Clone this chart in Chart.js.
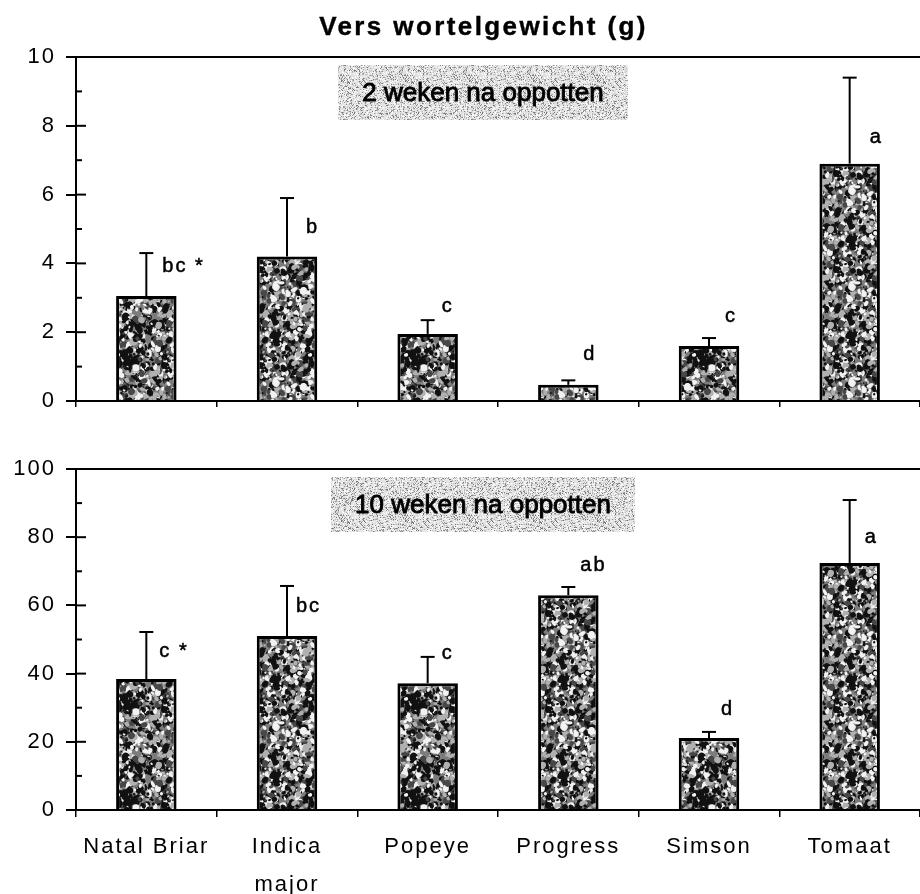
<!DOCTYPE html>
<html><head><meta charset="utf-8">
<script src="https://cdn.jsdelivr.net/npm/chart.js@4.4.0/dist/chart.umd.min.js"></script>
<style>
html,body{margin:0;padding:0;background:#fff;width:920px;height:894px;overflow:hidden;position:relative}
#title{position:absolute;left:0;top:11px;width:967px;text-align:center;font:bold 26px Arial,"Liberation Sans",sans-serif;line-height:30px;letter-spacing:2.4px;color:#000;z-index:2;-webkit-text-stroke:0.4px #000}
.wrap{position:absolute;left:0;width:920px}
</style></head><body>
<div class="wrap" style="top:0;height:440px"><canvas id="c1" width="920" height="440"></canvas></div>
<div class="wrap" style="top:440px;height:454px"><canvas id="c2" width="920" height="454"></canvas></div>
<div id="title">Vers wortelgewicht (g)</div>
<script>
// ---- data ----
const categories = ['Natal Briar', ['Indica', 'major'], 'Popeye', 'Progress', 'Simson', 'Tomaat'];
const week2Mean = [3.05, 4.2, 1.95, 0.47, 1.6, 6.9];
const week2Err = [1.25, 1.7, 0.4, 0.13, 0.23, 2.5];
const week2Letters = ['bc *', 'b', 'c', 'd', 'c', 'a'];
const week10Mean = [38.4, 51.0, 37.2, 63.0, 21.1, 72.4];
const week10Err = [13.8, 14.7, 7.7, 2.4, 1.8, 18.5];
const week10Letters = ['c *', 'bc', 'c', 'ab', 'd', 'a'];
const week2Ticks = [0, 2, 4, 6, 8, 10];
const week10Ticks = [0, 20, 40, 60, 80, 100];
const week2Minor = [1, 3, 5, 7, 9];
const week10Minor = [10, 30, 50, 70, 90];
const week2Box = '2 weken na oppotten';
const week10Box = '10 weken na oppotten';

// ---- annotation placement (value-axis anchor, px offset right of bar centre) ----
const week2LetterY = [3.9, 5.05, 2.75, 1.35, 2.45, 7.65];
const week2LetterDx = [16, 19, 14, 15, 16, 20];
const week10LetterY = [46.6, 59.8, 46.0, 71.8, 29.6, 79.8];
const week10LetterDx = [13, 9, 14, 12, 12, 15];

function rng(seed){let s=seed>>>0;return()=>{s=(Math.imul(s,1664525)+1013904223)>>>0;return s/4294967296;};}
function barPattern(ctx){
  const N=96;const c=document.createElement('canvas');c.width=c.height=N;const g=c.getContext('2d');
  g.fillStyle='#7c7c7c';g.fillRect(0,0,N,N);
  const r=rng(11);
  for(let i=0;i<1300;i++){
    const x=r()*N,y=r()*N,s=0.7+r()*3.0,v=r(),e=0.4+r()*0.8,rot=r()*3.14;
    g.fillStyle=v<0.42?'#111':v<0.70?'#f2f2f2':(v<0.85?'#474747':'#b0b0b0');
    for(const dx of [-N,0,N])for(const dy of [-N,0,N]){
      g.beginPath();g.ellipse(x+dx,y+dy,s,s*e,rot,0,6.283);g.fill();
    }
  }
  return ctx.createPattern(c,'repeat');
}
function boxPattern(ctx){
  const N=64;const c=document.createElement('canvas');c.width=c.height=N;const g=c.getContext('2d');
  g.fillStyle='#e2e2e2';g.fillRect(0,0,N,N);
  const r=rng(5);const cols=['#8e8e8e','#a8a8a8','#ffffff','#f4f4f4','#c2c2c2','#777','#ffffff'];
  for(let i=0;i<2600;i++){g.fillStyle=cols[Math.floor(r()*cols.length)];g.fillRect(Math.floor(r()*N),Math.floor(r()*N),1,1);}
  return ctx.createPattern(c,'repeat');
}

const decor = {
  id:'decor',
  beforeLayout(chart){chart.ctx.letterSpacing='2px';},
  beforeDraw(chart){chart.ctx.letterSpacing='2px';},
  afterDatasetsDraw(chart){
    const o=chart.options.plugins.decor;const ctx=chart.ctx;const y=chart.scales.y;const a=chart.chartArea;
    ctx.save();
    ctx.strokeStyle='#000';ctx.lineWidth=2;
    // top frame line
    ctx.beginPath();ctx.moveTo(a.left,a.top);ctx.lineTo(a.right,a.top);ctx.stroke();
    // inner ticks
    o.minor.forEach(v=>{const p=y.getPixelForValue(v);ctx.beginPath();ctx.moveTo(a.left,p);ctx.lineTo(a.left+6,p);ctx.stroke();});
    o.major.forEach(v=>{const p=y.getPixelForValue(v);ctx.beginPath();ctx.moveTo(a.left,p);ctx.lineTo(a.left+10,p);ctx.stroke();});
    // error bars
    const meta=chart.getDatasetMeta(0);
    meta.data.forEach((bar,i)=>{
      const t=y.getPixelForValue(o.mean[i]+o.err[i]);
      ctx.beginPath();ctx.moveTo(bar.x,bar.y);ctx.lineTo(bar.x,t);ctx.stroke();
      ctx.beginPath();ctx.moveTo(bar.x-7,t);ctx.lineTo(bar.x+7,t);ctx.stroke();
    });
    // letters
    ctx.fillStyle='#000';ctx.strokeStyle='#000';ctx.lineWidth=0.5;
    ctx.font='20px Arial, "Liberation Sans", sans-serif';ctx.letterSpacing='2px';
    ctx.textAlign='left';ctx.textBaseline='middle';
    meta.data.forEach((bar,i)=>{const px=bar.x+o.letterDx[i],py=y.getPixelForValue(o.letterY[i]);ctx.fillText(o.letters[i],px,py);ctx.strokeText(o.letters[i],px,py);});
    // label box
    ctx.font='26px Arial, "Liberation Sans", sans-serif';ctx.letterSpacing='0px';
    const w=ctx.measureText(o.box).width+48;const cx=a.left+407;const top=a.top+8;
    ctx.fillStyle=boxPattern(ctx);ctx.fillRect(cx-w/2,top,w,55);
    ctx.fillStyle='#000';ctx.textAlign='center';ctx.textBaseline='middle';ctx.lineWidth=0.9;
    ctx.fillText(o.box,cx,top+29);ctx.strokeText(o.box,cx,top+29);
    ctx.restore();
  }
};

function makeChart(id,mean,err,ticks,minor,letters,letterY,letterDx,box,padTop,xh,showLabels,tl){
  const ctx=document.getElementById(id).getContext('2d');
  const ymax=ticks[ticks.length-1];
  return new Chart(ctx,{
    type:'bar',
    data:{labels:categories,datasets:[{data:mean,backgroundColor:barPattern(ctx),borderColor:'#000',borderWidth:3,barPercentage:0.43,categoryPercentage:1}]},
    options:{
      responsive:false,animation:false,devicePixelRatio:1,
      layout:{padding:{top:padTop,left:0,right:0,bottom:0}},
      plugins:{legend:{display:false},tooltip:{enabled:false},title:{display:false},
        decor:{mean,err,minor,major:ticks,letters,letterY,letterDx,box}},
      scales:{
        x:{z:1,grid:{offset:true,drawOnChartArea:false,drawTicks:true,tickLength:tl,color:'#000',lineWidth:1.5},
           border:{display:true,color:'#000',width:2},
           ticks:{display:showLabels,color:'#000',autoSkip:false,maxRotation:0,padding:11,
                  font:{family:'Arial, "Liberation Sans", sans-serif',size:22,lineHeight:1.74}},
           afterFit(s){s.height=xh;}},
        y:{min:0,max:ymax,
           afterBuildTicks(s){s.ticks=ticks.map(v=>({value:v}));},
           grid:{drawOnChartArea:false,drawTicks:true,tickLength:10,color:'#000',lineWidth:2},
           border:{display:true,color:'#000',width:2},
           ticks:{color:'#000',padding:10,font:{family:'Arial, "Liberation Sans", sans-serif',size:22}},
           afterFit(s){s.width=76;}}
      }
    },
    plugins:[decor]
  });
}
makeChart('c1',week2Mean,week2Err,week2Ticks,week2Minor,week2Letters,week2LetterY,week2LetterDx,week2Box,57,39,false,6);
makeChart('c2',week10Mean,week10Err,week10Ticks,week10Minor,week10Letters,week10LetterY,week10LetterDx,week10Box,29,84,true,7);
</script>
</body></html>
